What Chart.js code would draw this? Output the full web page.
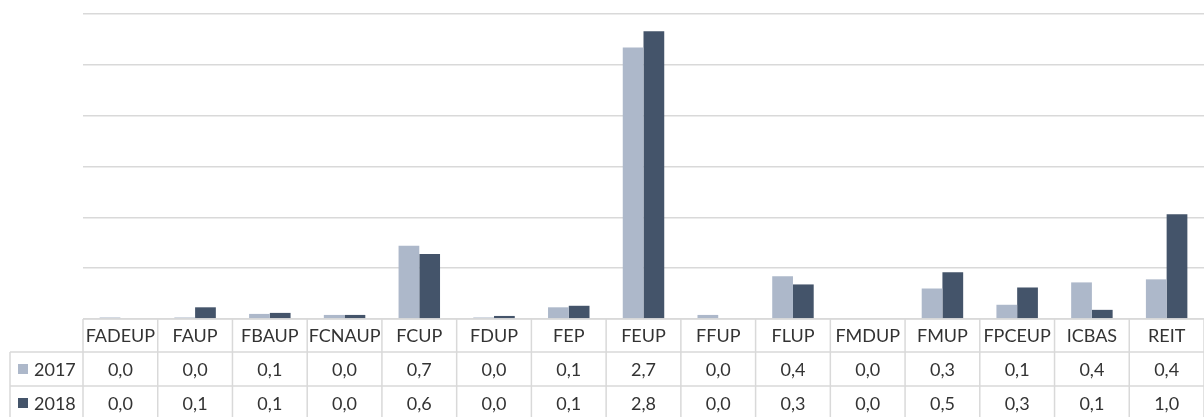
<!DOCTYPE html>
<html>
<head>
<meta charset="utf-8">
<script src="https://cdn.jsdelivr.net/npm/chart.js@4"></script>
<style>
  html, body { margin: 0; padding: 0; background: #fff; }
  #wrap { width: 1204px; height: 417px; position: relative; }
</style>
</head>
<body>
<div id="wrap"><canvas id="chart_units"></canvas></div>
<script>
// categories and values
var units = ['FADEUP', 'FAUP', 'FBAUP', 'FCNAUP', 'FCUP', 'FDUP', 'FEP', 'FEUP', 'FFUP', 'FLUP', 'FMDUP', 'FMUP', 'FPCEUP', 'ICBAS', 'REIT'];
var values2017 = [0.015, 0.015, 0.05, 0.04, 0.72, 0.015, 0.115, 2.67, 0.04, 0.42, 0, 0.30, 0.14, 0.36, 0.39];
var values2018 = [0, 0.115, 0.06, 0.04, 0.64, 0.03, 0.13, 2.83, 0, 0.34, 0, 0.46, 0.31, 0.09, 1.03];
// the numbers printed in the data table under the chart
var table2017 = ['0,0', '0,0', '0,1', '0,0', '0,7', '0,0', '0,1', '2,7', '0,0', '0,4', '0,0', '0,3', '0,1', '0,4', '0,4'];
var table2018 = ['0,0', '0,1', '0,1', '0,0', '0,6', '0,0', '0,1', '2,8', '0,0', '0,3', '0,0', '0,5', '0,3', '0,1', '1,0'];

var color2017 = '#adb8ca';
var color2018 = '#44546a';

var dataTable = {
    id: 'dataTable',
    afterDraw: (chart) => {
        const ctx = chart.ctx;
        const xs = chart.scales.x;
        const area = chart.chartArea;
        const step = (area.right - area.left) / units.length;
        const top = area.bottom;
        const rows = [top, top + 33, top + 67, top + 101];
        const legendLeft = 10;
        ctx.save();
        ctx.strokeStyle = '#d9d9d9';
        ctx.lineWidth = 1.5;
        ctx.beginPath();
        // horizontal rules
        ctx.moveTo(area.left, rows[0]); ctx.lineTo(area.right, rows[0]);
        for (let r = 1; r < rows.length; r++) {
            ctx.moveTo(legendLeft, rows[r]); ctx.lineTo(area.right, rows[r]);
        }
        // vertical rules
        ctx.moveTo(legendLeft, rows[1]); ctx.lineTo(legendLeft, rows[3]);
        for (let i = 0; i <= units.length; i++) {
            const x = area.left + i * step;
            ctx.moveTo(x, rows[0]); ctx.lineTo(x, rows[3]);
        }
        ctx.stroke();

        ctx.fillStyle = '#333';
        ctx.font = '18px Lato';
        ctx.textAlign = 'center';
        ctx.textBaseline = 'middle';
        units.forEach((u, i) => {
            const cx = xs.getPixelForValue(i);
            ctx.fillText(u, cx, (rows[0] + rows[1]) / 2 + 1);
            ctx.fillText(table2017[i], cx, (rows[1] + rows[2]) / 2 + 1);
            ctx.fillText(table2018[i], cx, (rows[2] + rows[3]) / 2 + 1);
        });

        // series keys in the first column
        const keys = [['2017', color2017], ['2018', color2018]];
        keys.forEach((k, r) => {
            const cy = (rows[r + 1] + rows[r + 2]) / 2;
            ctx.fillStyle = k[1];
            ctx.fillRect(18, cy - 5, 10, 10);
            ctx.fillStyle = '#333';
            ctx.textAlign = 'left';
            ctx.fillText(k[0], 34, cy + 1);
        });
        ctx.restore();
    }
};

var chart_units = new Chart(document.getElementById('chart_units'), {
    type: 'bar',
    data: {
        labels: units,
        datasets: [
            {
                label: '2017',
                data: values2017,
                backgroundColor: color2017,
                borderWidth: 0
            },
            {
                label: '2018',
                data: values2018,
                backgroundColor: color2018,
                borderWidth: 0
            }
        ]
    },
    options: {
        animation: false,
        responsive: true,
        maintainAspectRatio: false,
        layout: {
            padding: { left: 83, right: 0, top: 14, bottom: 98 }
        },
        datasets: {
            bar: {
                barPercentage: 1,
                categoryPercentage: 0.555
            }
        },
        plugins: {
            legend: { display: false },
            tooltip: { enabled: false }
        },
        scales: {
            x: {
                display: false
            },
            y: {
                min: 0,
                max: 3,
                ticks: { display: false, stepSize: 0.5 },
                grid: { color: '#d9d9d9', lineWidth: 1.5, drawTicks: false },
                border: { display: false }
            }
        }
    },
    plugins: [dataTable, {
        id: 'whiteBackground',
        beforeDraw: (chart) => {
            const ctx = chart.canvas.getContext('2d');
            ctx.save();
            ctx.globalCompositeOperation = 'destination-over';
            ctx.fillStyle = 'white';
            ctx.fillRect(0, 0, chart.canvas.width, chart.canvas.height);
            ctx.restore();
        }
    }]
});
</script>
</body>
</html>
